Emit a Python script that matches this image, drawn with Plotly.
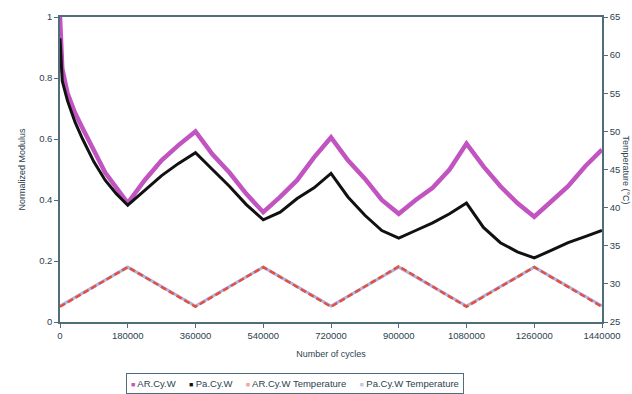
import plotly.graph_objects as go

# Cycle counts at which the modulus was sampled
cycles = [0, 2000, 6000, 20000, 40000, 60000, 90000, 120000, 150000, 180000,
          225000, 270000, 315000, 360000, 405000, 450000, 495000, 540000,
          585000, 630000, 675000, 720000, 765000, 810000, 855000, 900000,
          945000, 990000, 1035000, 1080000, 1125000, 1170000, 1215000, 1260000,
          1305000, 1350000, 1395000, 1440000]

# Normalized modulus, AR.Cy.W
ar_modulus = [1.0, 0.92, 0.83, 0.75, 0.685, 0.635, 0.56, 0.49, 0.44, 0.39,
              0.465, 0.53, 0.58, 0.625, 0.55, 0.49, 0.42, 0.36,
              0.41, 0.465, 0.54, 0.605, 0.53, 0.47, 0.40, 0.355,
              0.40, 0.44, 0.50, 0.585, 0.51, 0.445, 0.39, 0.345,
              0.395, 0.445, 0.51, 0.565]

# Normalized modulus, Pa.Cy.W
pa_modulus = [0.93, 0.87, 0.79, 0.725, 0.655, 0.60, 0.525, 0.465, 0.42, 0.383,
              0.43, 0.48, 0.52, 0.555, 0.50, 0.445, 0.385, 0.335,
              0.36, 0.405, 0.44, 0.487, 0.41, 0.35, 0.30, 0.275,
              0.30, 0.325, 0.355, 0.39, 0.31, 0.26, 0.23, 0.21,
              0.235, 0.26, 0.28, 0.30]

# Temperature program (°C)
temp_cycles = [0, 180000, 360000, 540000, 720000, 900000, 1080000, 1260000, 1440000]
ar_temperature = [27.0, 32.2, 27.0, 32.2, 27.0, 32.3, 27.0, 32.2, 27.0]
pa_temperature = [27.1, 32.2, 27.1, 32.2, 27.1, 32.2, 27.1, 32.2, 27.1]

x_ticks = [0, 180000, 360000, 540000, 720000, 900000, 1080000, 1260000, 1440000]

series_names = ["AR.Cy.W", "Pa.Cy.W", "AR.Cy.W Temperature", "Pa.Cy.W Temperature"]

PINK = "#c154c1"
BLACK = "#111111"
RED = "#e4503c"
BLUE = "#aeb2e6"
AXIS = "#4f6d7a"
TEXT = "#2c4250"
FONT = "Liberation Sans, Arial, sans-serif"

fig = go.Figure()

# Temperature traces on the secondary axis
fig.add_trace(go.Scatter(x=temp_cycles, y=pa_temperature, yaxis="y2", mode="lines",
                         name=series_names[3], line=dict(color=BLUE, width=3),
                         showlegend=False))
fig.add_trace(go.Scatter(x=temp_cycles, y=ar_temperature, yaxis="y2", mode="lines",
                         name=series_names[2], line=dict(color=RED, width=2.5, dash="6px,3px"),
                         showlegend=False))

# Modulus traces
fig.add_trace(go.Scatter(x=cycles, y=ar_modulus, mode="lines", name=series_names[0],
                         line=dict(color=PINK, width=4.5), showlegend=False))
fig.add_trace(go.Scatter(x=cycles, y=pa_modulus, mode="lines", name=series_names[1],
                         line=dict(color=BLACK, width=3), showlegend=False))

# Compact boxed key below the axis title: small coloured squares followed by names
key_colors = [PINK, BLACK, "#f2a898", "#c0c8ee"]
gap = "&nbsp;" * 5
key_text = gap.join(
    f"<span style='color:{c};font-size:7px'>■</span> {n}"
    for c, n in zip(key_colors, series_names)
)

fig.update_layout(
    width=632, height=394,
    margin=dict(l=60, r=30, t=17, b=72),
    paper_bgcolor="white", plot_bgcolor="white",
    font=dict(family=FONT, size=9, color=TEXT),
    showlegend=False,
    xaxis=dict(range=[0, 1440000], tickvals=x_ticks, tickformat="d",
               showline=True, linecolor=AXIS, linewidth=1.5, mirror=True,
               ticks="outside", ticklen=4, tickcolor=AXIS, showgrid=False, zeroline=False,
               tickfont=dict(size=9.5),
               title=dict(text="Number of cycles", font=dict(size=9, color=TEXT), standoff=11)),
    yaxis=dict(range=[0, 1], dtick=0.2, showline=True, linecolor=AXIS, linewidth=1.5,
               ticks="outside", ticklen=4, tickcolor=AXIS, showgrid=False, zeroline=False,
               tickfont=dict(size=9.5),
               title=dict(text="Normalized Modulus", font=dict(size=9, color=TEXT), standoff=12)),
    yaxis2=dict(range=[25, 65], dtick=5, overlaying="y", side="right",
                showline=True, linecolor=AXIS, linewidth=1.5, tickfont=dict(size=9.5),
                ticks="outside", ticklen=4, tickcolor=AXIS, showgrid=False, zeroline=False),
    annotations=[
        dict(text="Temperature (°C)", xref="paper", yref="paper",
             x=1.0443, y=0.5, xanchor="center", yanchor="middle",
             textangle=90, showarrow=False, font=dict(size=9, color=TEXT)),
        dict(text=key_text, xref="paper", yref="paper",
             x=0.4345, y=-0.2, xanchor="center", yanchor="middle",
             showarrow=False, font=dict(size=9.5, color=TEXT),
             bordercolor=AXIS, borderwidth=1, borderpad=4, bgcolor="white"),
    ],
)

fig.write_html("out.html")
